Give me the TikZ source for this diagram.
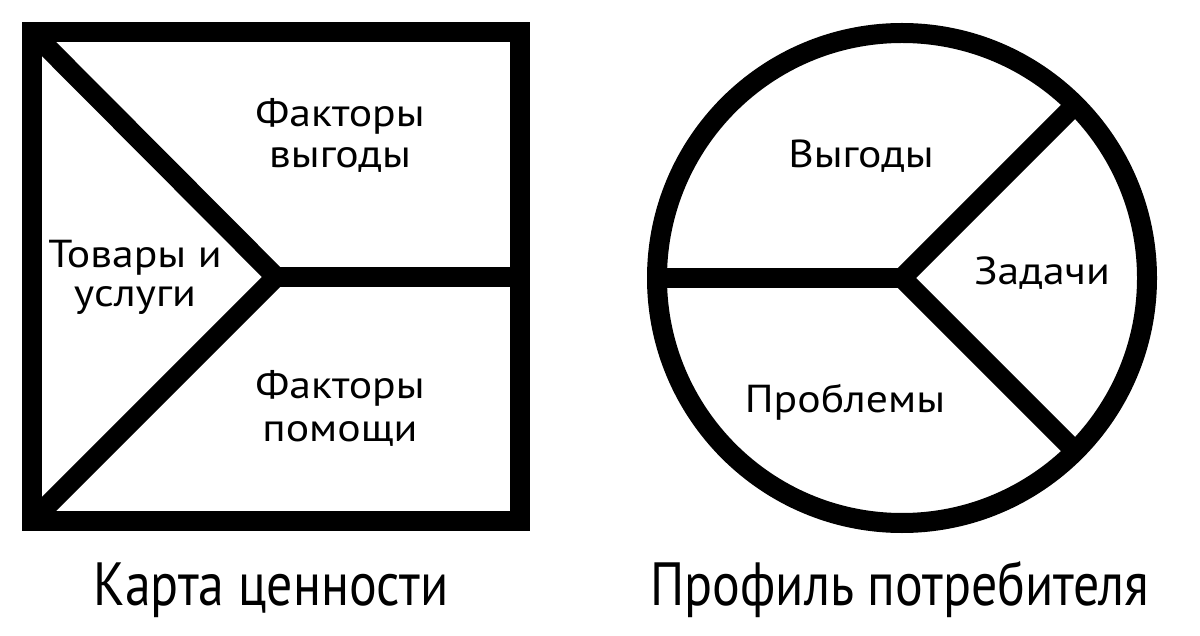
\documentclass[tikz,border=0pt]{standalone}
\usepackage{fontspec}
\setmainfont{PT Sans}
\newfontfamily\capfont[FakeStretch=0.85]{PT Sans}
\newfontfamily\lblfont[FakeStretch=1.12]{PT Sans}
\begin{document}
\begin{tikzpicture}[x=1pt,y=-1pt,
  thick line/.style={line width=20pt,line join=miter,line cap=butt},
  big/.style={font=\capfont\fontsize{61}{72}\selectfont,inner sep=0pt,anchor=base},
  lbl/.style={font=\lblfont\fontsize{39}{46}\selectfont,inner sep=0pt,anchor=base}]
\useasboundingbox (0,0) rectangle (1200,636);
% square
\coordinate (sTL) at (32,32);
\coordinate (sBR) at (520,521);
\coordinate (sBL) at (32,521);
\coordinate (sJ) at (276,277);
\coordinate (sR) at (520,277);
\draw[thick line] (sTL) rectangle (sBR);
\draw[thick line] (sTL) -- (sJ) -- (sBL);
\draw[thick line] (sJ) -- (sR);
% circle
\coordinate (cC) at (902,278);
\coordinate (cL) at (657,278);
\coordinate (cUR) at (1075.2,104.8);
\coordinate (cLR) at (1075.2,451.2);
\draw[thick line] (cC) circle[radius=245];
\draw[thick line] (cUR) -- (cC) -- (cLR);
\draw[thick line] (cL) -- (cC);
% labels
\node[lbl] (fv1) at (340,127) {Факторы};
\node[lbl] (fv2) at (340,168) {выгоды};
\node[lbl] (tu1) at (135,268) {Товары и};
\node[lbl] (tu2) at (135,307) {услуги};
\node[lbl] (fp1) at (340,399) {Факторы};
\node[lbl] (fp2) at (340,441) {помощи};
\node[lbl] (vy) at (861,168) {Выгоды};
\node[lbl] (zd) at (1042,285) {Задачи};
\node[lbl] (pr) at (845,412) {Проблемы};
\node[big] (km) at (271,605) {Карта ценности};
\node[big] (pp) at (900,605) {Профиль потребителя};
\end{tikzpicture}
\end{document}
